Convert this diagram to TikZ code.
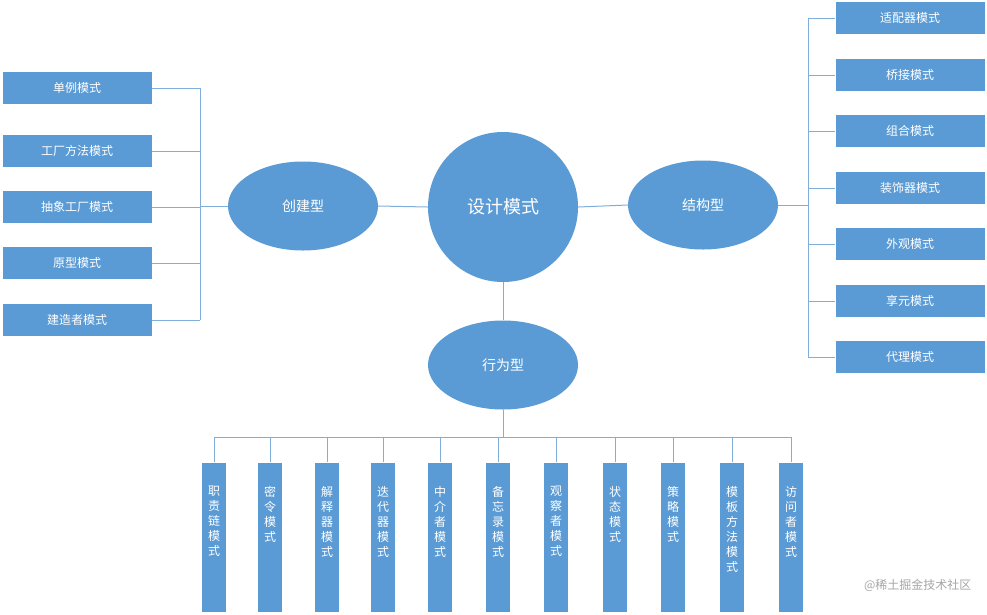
\documentclass[tikz,border=0pt]{standalone}
\usepackage{fontspec}
\setmainfont{Noto Sans CJK SC}
\usetikzlibrary{shapes.geometric}
\definecolor{fillb}{HTML}{5B9BD5}
\definecolor{lineb}{HTML}{7FAEDB}
\tikzset{
 hbox/.style={draw=white,fill=fillb,text=white,minimum width=150pt,minimum height=33pt,inner sep=0pt,font=\fontsize{12}{14}\selectfont},
 vbox/.style={draw=white,fill=fillb,text=white,minimum width=25pt,minimum height=150pt,inner sep=0pt,anchor=north,align=center,font=\fontsize{12}{15}\selectfont},
 ell/.style={ellipse,fill=fillb,text=white,minimum width=150pt,minimum height=89pt,inner sep=0pt,font=\fontsize{14}{16}\selectfont},
 conn/.style={draw=lineb,line width=1pt}
}
\begin{document}
\begin{tikzpicture}[x=1pt,y=-1pt]
\useasboundingbox[fill=white] (0,0) rectangle (987,614);
\node[circle,fill=fillb,text=white,minimum size=150pt,inner sep=0pt,font=\fontsize{18}{20}\selectfont] (c) at (503,207) {设计模式};
\node[ell] (cj) at (303,206) {创建型};
\node[ell] (jg) at (703,205) {结构型};
\node[ell] (xw) at (503,365) {行为型};
\draw[conn] (cj.east) -- (c.west);
\draw[conn] (c.east) -- (jg.west);
\draw[conn] (c.south) -- (xw.north);
% left
\coordinate (lb) at (200,206);
\draw[conn] (cj.west) -- (lb);
\foreach \t/\y/\n in {单例模式/88/l1,工厂方法模式/151/l2,抽象工厂模式/207/l3,原型模式/263/l4,建造者模式/320/l5}{
 \node[hbox] (\n) at (77,\y) {\t};
 \draw[conn] (\n.east) -- (200,\y);
}
\draw[conn] (200,88) -- (200,320);
% right
\draw[conn] (jg.east) -- (808,205);
\foreach \t/\y/\n in {适配器模式/18/r1,桥接模式/75/r2,组合模式/131/r3,装饰器模式/188/r4,外观模式/244/r5,享元模式/301/r6,代理模式/357/r7}{
 \node[hbox] (\n) at (910,\y) {\t};
 \draw[conn] (\n.west) -- (808,\y);
}
\draw[conn] (808,18) -- (808,357);
% bottom
\draw[conn] (xw.south) -- (503,437);
\draw[conn] (214,437) -- (791,437);
\foreach \t/\x/\n in {职\\责\\链\\模\\式/214/b1,密\\令\\模\\式/270/b2,解\\释\\器\\模\\式/327/b3,迭\\代\\器\\模\\式/383/b4,中\\介\\者\\模\\式/440/b5,备\\忘\\录\\模\\式/498/b6,观\\察\\者\\模\\式/556/b7,状\\态\\模\\式/615/b8,策\\略\\模\\式/673/b9,模\\板\\方\\法\\模\\式/732/b10,访\\问\\者\\模\\式/791/b11}{
 \node[vbox] (\n) at (\x,462) {};
 \node[anchor=north,align=center,text=white,inner sep=0pt,font=\fontsize{12}{15}\selectfont] at ([yshift=-24pt]\n.north) {\t};
 \draw[conn] (\n.north) -- (\x,437);
}
\node[text=gray!70,font=\fontsize{12}{14}\selectfont,anchor=east] (wm) at (975,585) {@稀土掘金技术社区};
\end{tikzpicture}
\end{document}
